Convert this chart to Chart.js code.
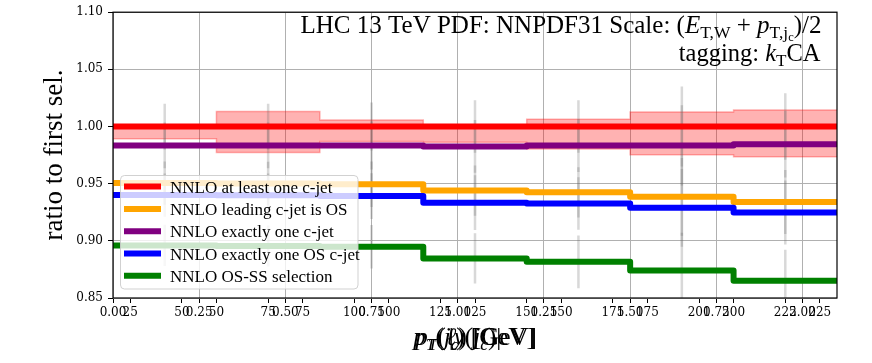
<!DOCTYPE html>
<html><head><meta charset="utf-8">
<script src="https://cdn.jsdelivr.net/npm/chart.js@4/dist/chart.umd.min.js"></script>
<style>html,body{margin:0;padding:0;background:#fff;}canvas{display:block;}</style>
</head><body>
<canvas id="c" width="872" height="363"></canvas>
<script>
// ---------------- data ----------------
const binEdges   = [20, 50, 80, 110, 140, 170, 200, 230];
const binCenters = [35, 65, 95, 125, 155, 185, 215];

const atLeastOne    = [1.000, 1.000, 1.000, 1.000, 1.000, 1.000, 1.000];
const leadingOS     = [0.9505, 0.9502, 0.9495, 0.9440, 0.9424, 0.9385, 0.9339];
const exactlyOne    = [0.9835, 0.9835, 0.9834, 0.9826, 0.9833, 0.9835, 0.9845];
const exactlyOneOS  = [0.9400, 0.9398, 0.9392, 0.9334, 0.9326, 0.9289, 0.9247];
const osMinusSS     = [0.8960, 0.8955, 0.8948, 0.8846, 0.8816, 0.8740, 0.8651];

const scaleUpper = [1.001, 1.0131, 1.0058, 1.001, 1.0064, 1.0128, 1.0145];
const scaleLower = [0.9893, 0.9773, 0.9869, 0.9862, 0.9803, 0.9753, 0.9736];

const errAtLeastOne   = [0.020, 0.020, 0.021, 0.023, 0.023, 0.035, 0.029];
const errLeadingOS    = [0.019, 0.019, 0.020, 0.022, 0.022, 0.034, 0.028];
const errExactlyOne   = [0.020, 0.020, 0.021, 0.023, 0.023, 0.035, 0.029];
const errExactlyOneOS = [0.019, 0.019, 0.020, 0.024, 0.023, 0.034, 0.028];
const errOSSS         = [0.018, 0.018, 0.019, 0.022, 0.023, 0.033, 0.027];

const seriesLabels = ['NNLO at least one c-jet', 'NNLO leading c-jet is OS', 'NNLO exactly one c-jet',
                      'NNLO exactly one OS c-jet', 'NNLO OS-SS selection'];
const seriesColors = ['#ff0000', '#ffa500', '#800080', '#0000ff', '#008000'];

const tickY = [0.85, 0.90, 0.95, 1.00, 1.05, 1.10];
const tickA = [0, 0.25, 0.5, 0.75, 1.0, 1.25, 1.5, 1.75, 2.0];       // 0 .. 2.1 axis
const tickB = [25, 50, 75, 100, 125, 150, 175, 200, 225];           // 20 .. 230 GeV (data axis)
const tickC = [50, 75, 100, 125, 150, 175, 200, 225];               // 30 .. 240 GeV axis

// ---------------- helpers ----------------
const serif = '"Liberation Serif", "Times New Roman", serif';
const tickFont = {family: '"DejaVu Serif", serif', size: 12};

function stepData(vals) {
  return binEdges.map((x, i) => ({x: x, y: vals[Math.min(i, vals.length - 1)]}));
}
function errData(vals, errs) {
  const pts = [];
  binCenters.forEach((c, i) => {
    pts.push({x: c, y: vals[i] - errs[i]});
    pts.push({x: c, y: vals[i] + errs[i]});
    pts.push({x: c, y: null});
  });
  return pts;
}

function segStyle(st, size) {
  switch (st) {
    case 'i':   return {font: `italic ${size}px ${serif}`, dy: 0};
    case 'sub': return {font: `${(size * 0.7).toFixed(1)}px ${serif}`, dy: size * 0.2};
    case 'subi':return {font: `italic ${(size * 0.7).toFixed(1)}px ${serif}`, dy: size * 0.2};
    case 'subsub': return {font: `${(size * 0.5).toFixed(1)}px ${serif}`, dy: size * 0.33};
    default:    return {font: `${size}px ${serif}`, dy: 0};
  }
}
function richWidth(ctx, segs, size) {
  let w = 0;
  for (const s of segs) { ctx.font = segStyle(s.st, size).font; w += ctx.measureText(s.t).width; }
  return w;
}
function drawRich(ctx, segs, x, baseline, size, align) {
  const w = richWidth(ctx, segs, size);
  let cx = align === 'right' ? x - w : (align === 'center' ? x - w / 2 : x);
  ctx.textBaseline = 'alphabetic';
  ctx.textAlign = 'left';
  for (const s of segs) {
    const st = segStyle(s.st, size);
    ctx.font = st.font;
    ctx.fillText(s.t, cx, baseline + st.dy);
    cx += ctx.measureText(s.t).width;
  }
}

// ---------------- datasets ----------------
const mainSeries = [atLeastOne, leadingOS, exactlyOne, exactlyOneOS, osMinusSS];
const errSeries  = [errAtLeastOne, errLeadingOS, errExactlyOne, errExactlyOneOS, errOSSS];

const datasets = [];
datasets.push({
  label: 'scale upper', data: stepData(scaleUpper), stepped: 'before',
  borderColor: 'rgba(255,0,0,0.3)', borderWidth: 1.5, pointRadius: 0, fill: false, order: 10, kind: 'band'
});
datasets.push({
  label: 'scale lower', data: stepData(scaleLower), stepped: 'before',
  borderColor: 'rgba(255,0,0,0.3)', borderWidth: 1.5, pointRadius: 0,
  fill: '-1', backgroundColor: 'rgba(255,0,0,0.3)', order: 10, kind: 'band'
});
mainSeries.forEach((vals, k) => {
  datasets.push({
    label: seriesLabels[k] + ' err', data: errData(vals, errSeries[k]),
    borderColor: 'rgba(100,100,100,0.25)', borderWidth: 2.5, pointRadius: 0, fill: false,
    spanGaps: false, order: 9, kind: 'err'
  });
});
mainSeries.forEach((vals, k) => {
  datasets.push({
    label: seriesLabels[k], data: stepData(vals), stepped: 'before',
    borderColor: seriesColors[k], backgroundColor: seriesColors[k], borderWidth: 6,
    borderJoinStyle: 'round', pointRadius: 0, fill: false, order: 5 - k, kind: 'main'
  });
});

// ---------------- plugins ----------------
const framePlugin = {
  id: 'frame',
  afterDatasetsDraw(chart) {
    const {ctx, chartArea: a} = chart;
    ctx.save();
    ctx.strokeStyle = '#000';
    ctx.lineWidth = 1.2;
    ctx.strokeRect(a.left, a.top, a.right - a.left, a.bottom - a.top);
    ctx.restore();
  }
};

const legendPlugin = {
  id: 'boxLegend',
  afterDatasetsDraw(chart) {
    const {ctx, chartArea: a} = chart;
    const mains = chart.data.datasets.filter(d => d.kind === 'main');
    const bx = a.left + 7.5, by = 175.5, bw = 237.5, bh = 113.5, r = 4;
    ctx.save();
    ctx.beginPath();
    ctx.moveTo(bx + r, by);
    ctx.arcTo(bx + bw, by, bx + bw, by + bh, r);
    ctx.arcTo(bx + bw, by + bh, bx, by + bh, r);
    ctx.arcTo(bx, by + bh, bx, by, r);
    ctx.arcTo(bx, by, bx + bw, by, r);
    ctx.closePath();
    ctx.fillStyle = 'rgba(255,255,255,0.8)';
    ctx.fill();
    ctx.strokeStyle = 'rgba(204,204,204,0.9)';
    ctx.lineWidth = 1;
    ctx.stroke();
    const rowH = 22.3, y0 = 186.6;
    mains.forEach((d, i) => {
      const cy = y0 + i * rowH;
      ctx.beginPath();
      ctx.strokeStyle = d.borderColor;
      ctx.lineWidth = 6;
      ctx.lineCap = 'butt';
      ctx.moveTo(bx + 3.5, cy);
      ctx.lineTo(bx + 40.5, cy);
      ctx.stroke();
      ctx.fillStyle = '#000';
      ctx.font = `17px ${serif}`;
      ctx.textBaseline = 'alphabetic';
      ctx.textAlign = 'left';
      ctx.fillText(d.label, bx + 49.5, cy + 6.2);
    });
    ctx.restore();
  }
};

const textPlugin = {
  id: 'texts',
  afterDraw(chart) {
    const {ctx, chartArea: a} = chart;
    ctx.save();
    ctx.fillStyle = '#000';
    const line1 = [
      {t: 'LHC 13 TeV PDF: NNPDF31 Scale: (', st: 'n'},
      {t: 'E', st: 'i'}, {t: 'T,W', st: 'sub'},
      {t: ' + ', st: 'n'},
      {t: 'p', st: 'i'}, {t: 'T,j', st: 'sub'}, {t: 'c', st: 'subsub'},
      {t: ')/2', st: 'n'}
    ];
    const line2 = [
      {t: 'tagging: ', st: 'n'}, {t: 'k', st: 'i'}, {t: 'T', st: 'sub'}, {t: 'CA', st: 'n'}
    ];
    drawRich(ctx, line1, a.right - 15.5, 33, 25, 'right');
    drawRich(ctx, line2, a.right - 16.5, 61, 24.5, 'right');

    // overlapping x-axis titles of the three shared bottom axes
    const cx = (a.left + a.right) / 2;
    const xl1 = [{t: 'p', st: 'i'}, {t: 'T', st: 'subi'}, {t: '(', st: 'n'}, {t: 'j', st: 'i'}, {t: 'c', st: 'subi'}, {t: ') [GeV]', st: 'n'}];
    const xl2 = [{t: 'p', st: 'i'}, {t: 'T', st: 'subi'}, {t: '(', st: 'n'}, {t: 'ℓ', st: 'i'}, {t: ') [GeV]', st: 'n'}];
    const xl3 = [{t: '|', st: 'n'}, {t: 'y', st: 'i'}, {t: '(', st: 'n'}, {t: 'j', st: 'i'}, {t: 'c', st: 'subi'}, {t: ')|', st: 'n'}];
    drawRich(ctx, xl1, cx, 345, 25, 'center');
    drawRich(ctx, xl2, cx, 345, 25, 'center');
    drawRich(ctx, xl3, cx, 345, 25, 'center');
    ctx.restore();
  }
};

// ---------------- chart ----------------
const tickCommon = {font: tickFont, color: '#000', maxRotation: 0, minRotation: 0, autoSkip: false, padding: 3};

new Chart(document.getElementById('c'), {
  type: 'line',
  data: {datasets},
  options: {
    responsive: false, animation: false, devicePixelRatio: 1,
    layout: {padding: {left: 0, right: 35, top: 11, bottom: 0}},
    plugins: {legend: {display: false}, tooltip: {enabled: false}},
    scales: {
      x: {
        type: 'linear', position: 'bottom', min: 20, max: 230,
        afterBuildTicks: s => { s.ticks = tickB.map(v => ({value: v})); },
        afterFit: s => { s.height = 65; },
        ticks: Object.assign({}, tickCommon, {callback: v => String(v)}),
        grid: {drawOnChartArea: false, drawTicks: true, tickLength: 5, tickColor: '#000', tickWidth: 1},
        border: {display: false}
      },
      xA: {
        type: 'linear', position: {y: 0.85}, min: 0, max: 2.1,
        afterBuildTicks: s => { s.ticks = tickA.map(v => ({value: v})); },
        ticks: Object.assign({}, tickCommon, {callback: v => Number(v).toFixed(2)}),
        grid: {drawOnChartArea: true, color: '#b0b0b0', lineWidth: 1, drawTicks: true, tickLength: 5, tickColor: '#000', tickWidth: 1},
        border: {display: false}
      },
      xC: {
        type: 'linear', position: {y: 0.85}, min: 30, max: 240,
        afterBuildTicks: s => { s.ticks = tickC.map(v => ({value: v})); },
        ticks: Object.assign({}, tickCommon, {callback: v => String(v)}),
        grid: {drawOnChartArea: false, drawTicks: true, tickLength: 5, tickColor: '#000', tickWidth: 1},
        border: {display: false}
      },
      y: {
        type: 'linear', position: 'left', min: 0.85, max: 1.10,
        afterBuildTicks: s => { s.ticks = tickY.map(v => ({value: v})); },
        afterFit: s => { s.width = 113; },
        ticks: Object.assign({}, tickCommon, {padding: 5, callback: v => Number(v).toFixed(2)}),
        grid: {color: '#b0b0b0', lineWidth: 1, drawTicks: true, tickLength: 5, tickColor: '#000', tickWidth: 1},
        border: {display: false},
        title: {display: true, text: 'ratio to first sel.', color: '#000',
                font: {family: serif, size: 27}, padding: {top: 39, bottom: 0}}
      }
    }
  },
  plugins: [framePlugin, legendPlugin, textPlugin]
});
</script>
</body></html>
